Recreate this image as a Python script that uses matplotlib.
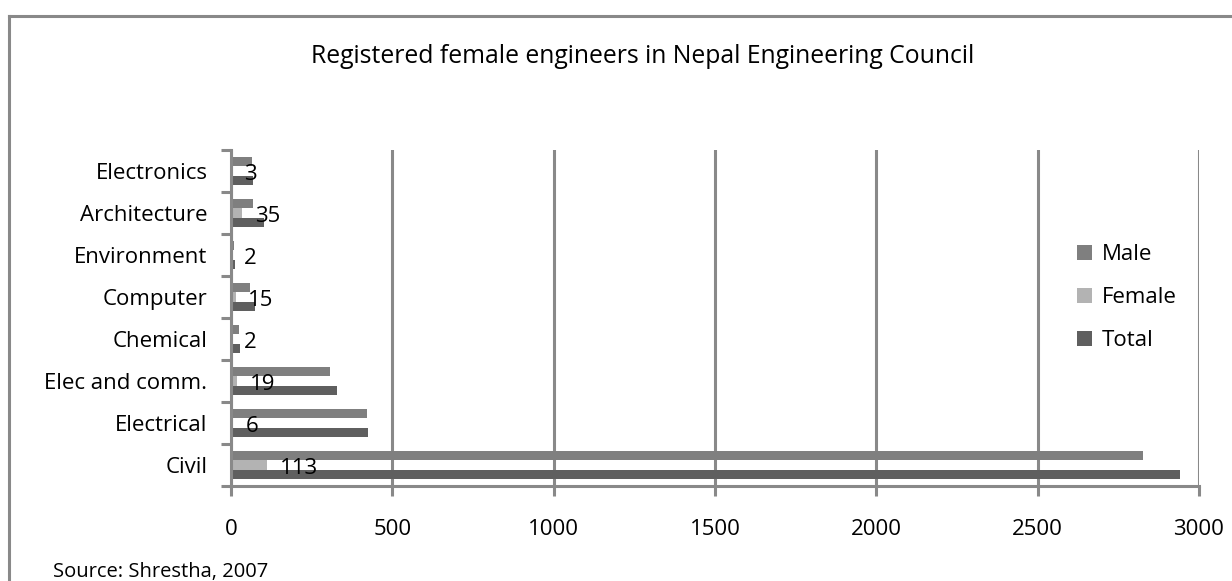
import matplotlib
matplotlib.use("Agg")
import matplotlib.pyplot as plt
from matplotlib.lines import Line2D
import numpy as np

categories = ["Civil", "Electrical", "Elec and comm.", "Chemical", "Computer",
              "Environment", "Architecture", "Electronics"]
male = [2827, 420, 308, 25, 60, 9, 68, 66]
female = [113, 6, 19, 2, 15, 2, 35, 3]
total = [2940, 426, 327, 27, 75, 11, 103, 69]
xticks = [0, 500, 1000, 1500, 2000, 2500, 3000]

W, H = 1232, 581
fig = plt.figure(figsize=(W / 100, H / 100), dpi=100)
plt.rcParams['font.family'] = ['Open Sans', 'DejaVu Sans']

def px2fig(x, y):
    return x / W, 1 - y / H

l, t = px2fig(231, 150)
r, b = px2fig(1199, 486)
ax = fig.add_axes([l, b, r - l, t - b])

grey = "#898989"
c_male, c_female, c_total = "#7f7f7f", "#b3b3b3", "#5f5f5f"

y = np.arange(len(categories))
h = 0.215
ax.barh(y + h, male, height=h, color=c_male, label="Male", zorder=3)
ax.barh(y, female, height=h, color=c_female, label="Female", zorder=3)
ax.barh(y - h, total, height=h, color=c_total, label="Total", zorder=3)

fs = 16
for yi, v in zip(y, female):
    ax.annotate(str(v), (v, yi), xytext=(9, -2.5), textcoords="offset points",
                ha="left", va="center", fontsize=fs, color="black", zorder=4)

ax.set_xlim(0, 3000)
ax.set_ylim(-0.5, len(categories) - 0.5)
ax.set_xticks(xticks)
ax.set_xticklabels([str(v) for v in xticks], fontsize=fs)
ax.set_yticks(y)
ax.set_yticklabels(categories, fontsize=fs)
ax.set_yticks(np.arange(-0.5, len(categories)), minor=True)

ax.tick_params(axis="y", which="major", length=0, pad=17)
ax.tick_params(axis="y", which="minor", length=7.2, width=2.2, color=grey, direction="out")
ax.tick_params(axis="x", which="major", length=7.2, width=2.2, color=grey, direction="out", pad=16.5)

ax.grid(axis="x", color=grey, linewidth=2.2, zorder=1)
ax.set_axisbelow(True)
for s in ["top", "right"]:
    ax.spines[s].set_visible(False)
for s in ["left", "bottom"]:
    ax.spines[s].set_color(grey)
    ax.spines[s].set_linewidth(2.2)
    ax.spines[s].set_zorder(5)

tx, ty = px2fig(643, 63)
fig.text(tx, ty, "Registered female engineers in Nepal Engineering Council",
         ha="center", va="baseline", fontsize=17.8)

sx, sy = px2fig(53, 577)
fig.text(sx, sy, "Source: Shrestha, 2007", ha="left", va="baseline", fontsize=14.5)

lx, ly = px2fig(1077, 244)
ax.legend(loc="upper left", bbox_to_anchor=(lx, ly), bbox_transform=fig.transFigure,
          frameon=False, fontsize=fs, handlelength=0.68, handleheight=0.68,
          handletextpad=0.45, labelspacing=1.0, borderaxespad=0, borderpad=0)

# outer frame
x0, y0 = px2fig(9, 16)
fig.add_artist(Line2D([x0, 1.0], [y0, y0], transform=fig.transFigure, color=grey, linewidth=2.2))
fig.add_artist(Line2D([x0, x0], [0.0, y0], transform=fig.transFigure, color=grey, linewidth=2.2))

fig.savefig("out.png", dpi=100)
